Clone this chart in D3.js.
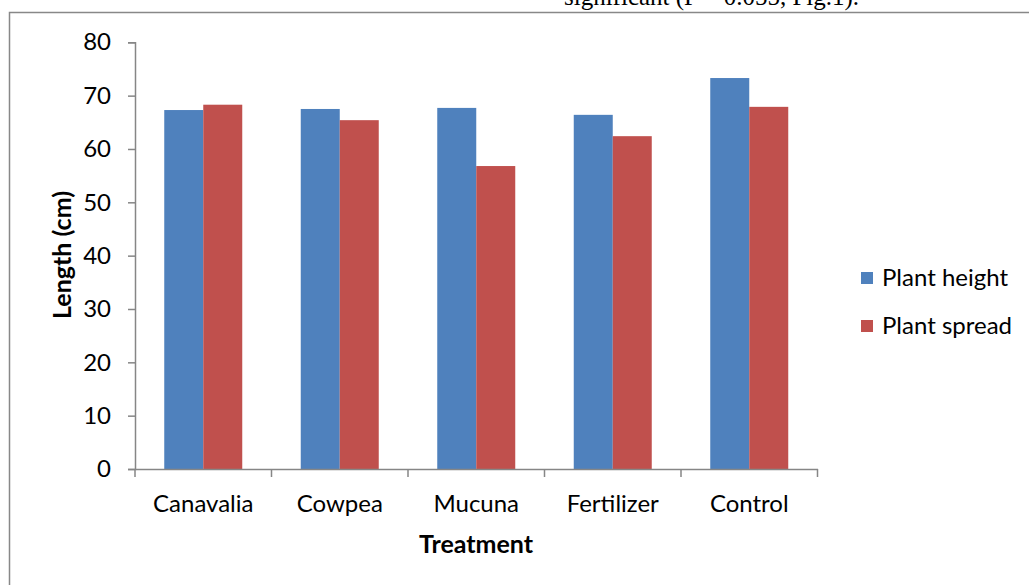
<!DOCTYPE html>
<html><head><meta charset="utf-8">
<script src="https://cdn.jsdelivr.net/npm/d3@7"></script>
<style>
html,body{margin:0;padding:0;background:#fff;}
svg{display:block;}
text{font-family:Lato,"Open Sans",sans-serif;fill:#000;}
</style></head>
<body>
<svg id="chart" width="1029" height="585"></svg>
<script>
const categories = ["Canavalia","Cowpea","Mucuna","Fertilizer","Control"];
const seriesNames = ["Plant height","Plant spread"];
const plantHeight = [67.3, 67.5, 67.7, 66.4, 73.3];
const plantSpread = [68.3, 65.4, 56.8, 62.4, 67.9];
const yTicks = [0,10,20,30,40,50,60,70,80];
const colors = ["#4F81BD","#C0504D"];

const svg = d3.select("#chart");

// frame
svg.append("path").attr("d","M1029,12.5 H9.5 V585")
  .attr("fill","none").attr("stroke","#888").attr("stroke-width",1.5);

// partial text above (cut off in the reference as well)
svg.append("text").attr("x",564).attr("y",5)
  .style("font-family","'Liberation Serif',serif").style("font-size","25px")
  .text("significant (P = 0.055, Fig.1).");

const x0 = d3.scaleBand().domain(categories).range([135,817.5]).paddingInner(0).paddingOuter(0);
const x1 = d3.scaleBand().domain(seriesNames).range([0,x0.bandwidth()]).paddingInner(0).paddingOuter(0.75);
const y = d3.scaleLinear().domain([0,80]).range([469,42.3]);

const data = categories.map((c,i)=>({cat:c, vals:[plantHeight[i], plantSpread[i]]}));

const g = svg.append("g");
g.selectAll("g.grp").data(data).join("g").attr("class","grp")
  .attr("transform",d=>`translate(${x0(d.cat)},0)`)
  .selectAll("rect").data(d=>d.vals.map((v,j)=>({v, s:seriesNames[j], j})))
  .join("rect")
  .attr("x",d=>x1(d.s)).attr("width",x1.bandwidth())
  .attr("y",d=>y(d.v)).attr("height",d=>y(0)-y(d.v))
  .attr("fill",d=>colors[d.j]);

// axes
const yAxis = d3.axisLeft(y).tickValues(yTicks).tickSize(7).tickPadding(17);
const ya = svg.append("g").attr("transform","translate(135,0)").call(yAxis);
ya.select(".domain").attr("stroke","#868686").attr("stroke-width",1.5);
ya.selectAll(".tick line").attr("stroke","#868686").attr("stroke-width",1.5);
ya.selectAll(".tick text").style("font-size","24px").style("font-family","Lato,sans-serif").attr("fill","#000");

const xAxis = d3.axisBottom(x0).tickSize(0).tickFormat("");
const xa = svg.append("g").attr("transform","translate(0,469)").call(xAxis);
xa.select(".domain").attr("stroke","#868686").attr("stroke-width",1.5);
xa.selectAll(".bound").data(d3.range(categories.length+1)).join("line").attr("class","bound")
  .attr("x1",i=>135+i*x0.bandwidth()).attr("x2",i=>135+i*x0.bandwidth())
  .attr("y1",0).attr("y2",8).attr("stroke","#868686").attr("stroke-width",1.5);
xa.selectAll(".lbl").data(categories).join("text").attr("class","lbl")
  .attr("x",d=>x0(d)+x0.bandwidth()/2).attr("y",43)
  .attr("text-anchor","middle").style("font-size","24px").text(d=>d);

// axis titles
svg.append("text").attr("transform","translate(71,255) rotate(-90)")
  .attr("text-anchor","middle").style("font-size","25px").style("font-weight","bold")
  .text("Length (cm)");
svg.append("text").attr("x",476).attr("y",553)
  .attr("text-anchor","middle").style("font-size","25px").style("font-weight","bold")
  .text("Treatment");

// legend
const lg = svg.append("g").selectAll("g").data(seriesNames).join("g")
  .attr("transform",(d,i)=>`translate(861,${272+i*48})`);
lg.append("rect").attr("width",12).attr("height",12).attr("fill",(d,i)=>colors[i]);
lg.append("text").attr("x",21).attr("y",14).style("font-size","24px").text(d=>d);
</script>
</body></html>
